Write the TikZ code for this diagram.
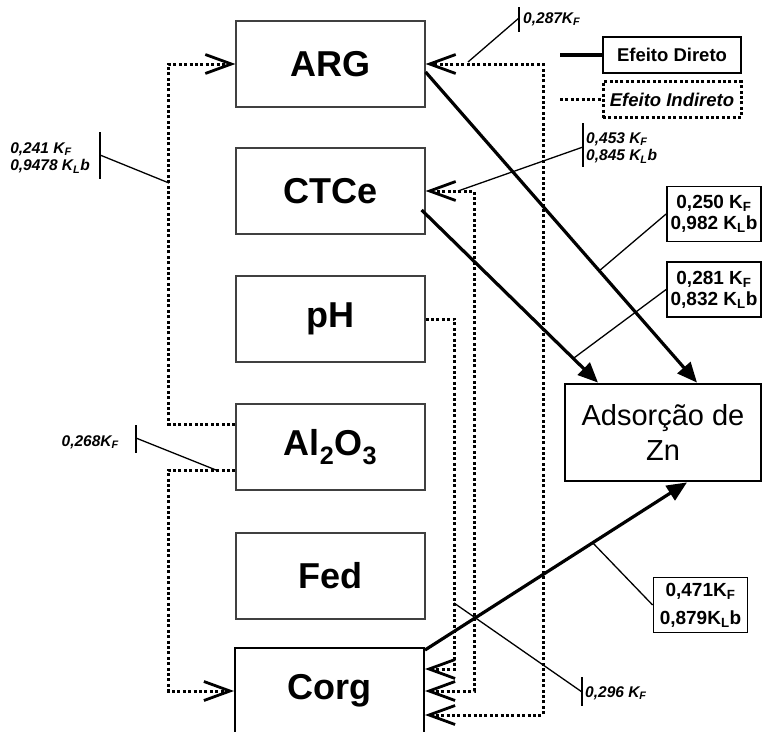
\documentclass[tikz,border=0pt]{standalone}
\usepackage{fontspec}
\setmainfont{Liberation Sans}
\usetikzlibrary{arrows.meta,calc}
\tikzset{barb/.tip={Straight Barb[length=26pt,width=19pt,line width=2.8pt]}}
\begin{document}
\begin{tikzpicture}[x=1pt,y=-1pt,
  var/.style={draw=black!75, line width=1.2pt, minimum width=189pt, minimum height=86pt, inner sep=0pt, font=\fontsize{36}{40}\selectfont\bfseries},
  ads/.style={draw=black, line width=2.8pt, minimum width=196pt, minimum height=97pt, inner sep=0pt, align=center, font=\fontsize{29}{35}\selectfont},
  lbl/.style={draw=black, line width=1.8pt, minimum width=94pt, minimum height=55pt, inner sep=2pt, align=center, font=\fontsize{19}{21}\selectfont\bfseries},
  ilbl/.style={inner sep=0pt, align=left, font=\fontsize{15.5}{17.5}\selectfont\bfseries\itshape},
  leg/.style={minimum width=138pt, minimum height=36pt, inner sep=0pt, font=\fontsize{18.5}{21}\selectfont\bfseries},
  direct/.style={line width=3.2pt, -{Triangle[length=20pt,width=17pt]}},
  ind/.style={line width=3pt, dash pattern=on 3pt off 2.4pt},
  thinl/.style={line width=1.3pt}
]
\useasboundingbox (0,0) rectangle (763,731);
\clip (0,0) rectangle (763,731);

% variable boxes
\node[var] (ARG) at (330.5,64) {ARG};
\node[var] (CTCe) at (330.5,191) {CTCe};
\node[var] (pH) at (330.5,319) {pH};
\node[var] (Al) at (330.5,447) {Al\textsubscript{2}O\textsubscript{3}};
\node[var] (Fed) at (330.5,576) {Fed};
\node[var, draw=black, line width=2pt] (Corg) at (329.5,691) {Corg};
\node[ads] (Ads) at (663,432.5) {Adsorção de\\Zn};

% legend
\node[leg, draw=black, line width=2.6pt] (Ld) at (672,55) {Efeito Direto};
\node[leg, draw=black, ind, font=\fontsize{18.5}{21}\selectfont\bfseries\itshape] (Li) at (672,99.5) {Efeito Indireto};
\coordinate (Lds) at (560,55);
\coordinate (Lis) at (560,99.5);
\draw[line width=4pt] (Lds) -- (Ld.west);
\draw[ind] (Lis) -- (Li.west);

% direct effects
\draw[direct] ([yshift=-8pt]ARG.east) -- coordinate[pos=0.64] (pA) ([xshift=34pt]Ads.north);
\draw[direct] ([xshift=-4pt,yshift=-19pt]CTCe.east) -- coordinate[pos=0.86] (pC) ([xshift=-65pt]Ads.north);
\draw[direct] ([yshift=-3pt]Corg.north east) -- coordinate[pos=0.64] (pG) ([xshift=24pt]Ads.south);

\node[lbl] (L1) at (714,214) {0,250 K\textsubscript{F}\\0,982 K\textsubscript{L}b};
\node[lbl] (L2) at (714,289.5) {0,281 K\textsubscript{F}\\0,832 K\textsubscript{L}b};
\node[lbl, font=\fontsize{19}{28}\selectfont\bfseries] (L3) at (700.5,605) {0,471K\textsubscript{F}\\0,879K\textsubscript{L}b};
\draw[thinl] (L1.west) -- (pA);
\draw[thinl] (L2.west) -- (pC);
\draw[thinl] (L3.west) -- (pG);

% indirect effects
\draw[ind, {barb}-{barb}] ([yshift=-24pt]Corg.east) -- ++(118,0) |- (ARG.east);
\draw[ind, {barb}-{barb}] (Corg.east) -- ++(49,0) |- (CTCe.east);
\draw[ind, -{barb}] (pH.east) -- ++(29,0) |- ([yshift=22pt]Corg.east);
\draw[ind, -{barb}] ([yshift=23pt]Al.west) -- ++(-67,0) |- (ARG.west);
\draw[ind, -{barb}] ([yshift=-23pt]Al.west) -- ++(-67,0) |- (Corg.west);

% italic coefficient labels
\coordinate (b287) at (519,18);
\coordinate (e287) at (468,62);
\node[ilbl, anchor=west] (t287) at (523,19) {0,287K\textsubscript{F}};
\draw[thinl] ([yshift=11pt]b287) -- ([yshift=-14pt]b287);
\draw[thinl] (b287) -- (e287);

\coordinate (b453) at (583,147);
\coordinate (e453) at (458,191);
\node[ilbl, anchor=west] (t453) at (586,148) {0,453 K\textsubscript{F}\\0,845 K\textsubscript{L}b};
\draw[thinl] ([yshift=24pt]b453) -- ([yshift=-20pt]b453);
\draw[thinl] (b453) -- (e453);

\coordinate (b241) at (100,155);
\coordinate (e241) at (169,183);
\node[ilbl, anchor=east] (t241) at (90,158) {0,241 K\textsubscript{F}\\0,9478 K\textsubscript{L}b};
\draw[thinl] ([yshift=23pt]b241) -- ([yshift=-24pt]b241);
\draw[thinl] (b241) -- (e241);

\coordinate (b268) at (136,438);
\coordinate (e268) at (216,470);
\node[ilbl, anchor=east] (t268) at (119,442) {0,268K\textsubscript{F}};
\draw[thinl] ([yshift=13pt]b268) -- ([yshift=-15pt]b268);
\draw[thinl] (b268) -- (e268);

\coordinate (b296) at (582,692);
\coordinate (e296) at (454,603);
\node[ilbl, anchor=west] (t296) at (585,693) {0,296 K\textsubscript{F}};
\draw[thinl] ([yshift=15pt]b296) -- ([yshift=-14pt]b296);
\draw[thinl] (b296) -- (e296);
\end{tikzpicture}
\end{document}
